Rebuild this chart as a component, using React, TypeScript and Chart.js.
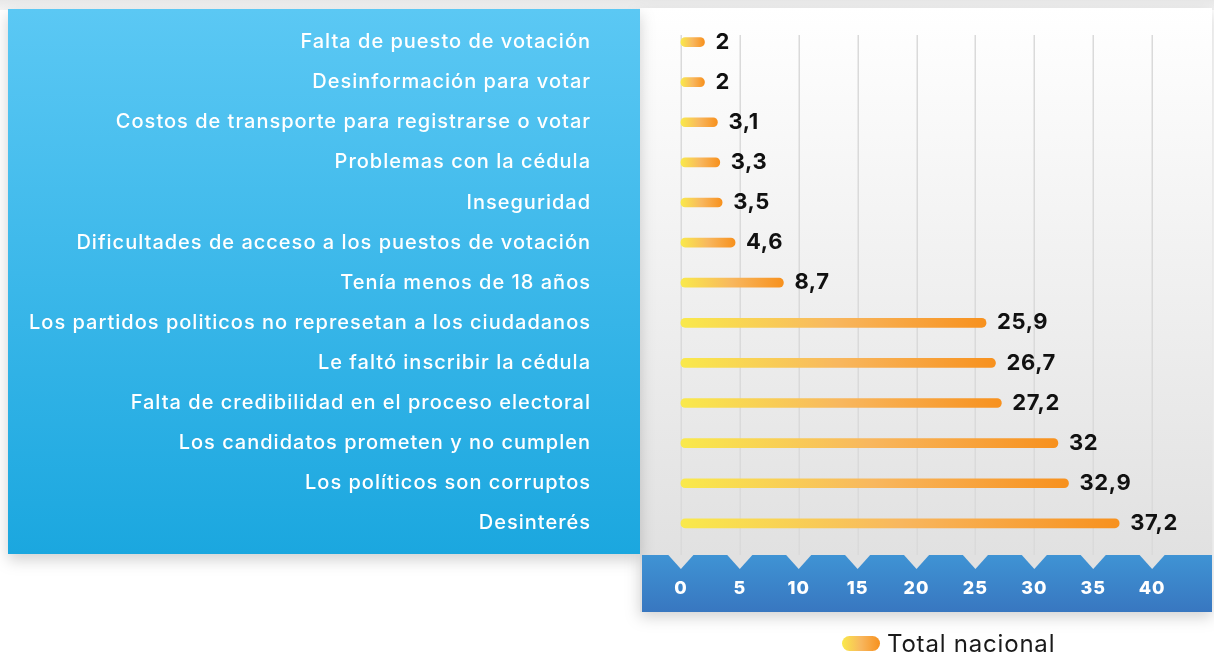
import React, { useEffect, useRef } from 'react';
import { Chart, registerables } from 'chart.js';

Chart.register(...registerables);

const CATEGORIES = [
  'Falta de puesto de votación',
  'Desinformación para votar',
  'Costos de transporte para registrarse o votar',
  'Problemas con la cédula',
  'Inseguridad',
  'Dificultades de acceso a los puestos de votación',
  'Tenía menos de 18 años',
  'Los partidos politicos no represetan a los ciudadanos',
  'Le faltó inscribir la cédula',
  'Falta de credibilidad en el proceso electoral',
  'Los candidatos prometen y no cumplen',
  'Los políticos son corruptos',
  'Desinterés',
];

const VALUES = [2, 2, 3.1, 3.3, 3.5, 4.6, 8.7, 25.9, 26.7, 27.2, 32, 32.9, 37.2];

const X_TICKS = [0, 5, 10, 15, 20, 25, 30, 35, 40];

const LEGEND_LABEL = 'Total nacional';

const FONT = "Inter, 'Open Sans', sans-serif";

const X_MIN = -7.63;
const X_MAX = 45.08;

const fmt = (v: number) => String(v).replace('.', ',');

function warmGradient(c: CanvasRenderingContext2D, x0: number, x1: number) {
  const g = c.createLinearGradient(x0, 0, x1, 0);
  g.addColorStop(0, '#f9e94b');
  g.addColorStop(0.5, '#f8b75e');
  g.addColorStop(1, '#f7911e');
  return g;
}

function roundRect(c: CanvasRenderingContext2D, x: number, y: number, w: number, h: number, r: number) {
  c.beginPath();
  c.moveTo(x + r, y);
  c.lineTo(x + w - r, y);
  c.arcTo(x + w, y, x + w, y + r, r);
  c.lineTo(x + w, y + h - r);
  c.arcTo(x + w, y + h, x + w - r, y + h, r);
  c.lineTo(x + r, y + h);
  c.arcTo(x, y + h, x, y + h - r, r);
  c.lineTo(x, y + r);
  c.arcTo(x, y, x + r, y, r);
  c.closePath();
}

export default function App() {
  const ref = useRef<HTMLCanvasElement>(null);

  useEffect(() => {
    const canvas = ref.current;
    if (!canvas) return;

    const BAND_TOP = 555;
    const BAND_BOTTOM = 612;

    const decor = {
      id: 'decor',
      beforeDraw(chart: any) {
        const c: any = chart.ctx;
        const W = chart.width;
        c.save();
        c.fillStyle = '#ffffff';
        c.fillRect(0, 0, W, chart.height);
        const tg = c.createLinearGradient(0, 0, 0, 10);
        tg.addColorStop(0, '#e8e8e8');
        tg.addColorStop(1, '#f4f4f4');
        c.fillStyle = tg;
        c.fillRect(0, 0, W, 10);

        c.save();
        c.shadowColor = 'rgba(0,0,0,0.18)';
        c.shadowBlur = 14;
        c.shadowOffsetY = 5;
        const rg = c.createLinearGradient(0, 8, 0, BAND_TOP);
        rg.addColorStop(0, '#ffffff');
        rg.addColorStop(1, '#e1e1e1');
        c.fillStyle = rg;
        c.fillRect(640, 8, 1212 - 640, BAND_BOTTOM - 8);
        c.restore();

        c.save();
        c.shadowColor = 'rgba(0,0,0,0.18)';
        c.shadowBlur = 14;
        c.shadowOffsetY = 6;
        const lg = c.createLinearGradient(0, 9, 0, 554);
        lg.addColorStop(0, '#5bc8f4');
        lg.addColorStop(1, '#1ba7df');
        c.fillStyle = lg;
        c.fillRect(8, 9, 640 - 8, 554 - 9);
        c.restore();

        const bg = c.createLinearGradient(0, BAND_TOP, 0, BAND_BOTTOM);
        bg.addColorStop(0, '#3f93d4');
        bg.addColorStop(1, '#3877c0');
        c.fillStyle = bg;
        c.fillRect(642, BAND_TOP, 1212 - 642, BAND_BOTTOM - BAND_TOP);

        const xs = chart.scales.x;
        c.fillStyle = '#e1e1e1';
        X_TICKS.forEach((t) => {
          const px = xs.getPixelForValue(t);
          c.beginPath();
          c.moveTo(px - 13, BAND_TOP - 0.5);
          c.lineTo(px + 13, BAND_TOP - 0.5);
          c.lineTo(px, BAND_TOP + 14);
          c.closePath();
          c.fill();
        });
        c.restore();
        c.letterSpacing = '1px';
      },
      beforeDatasetsDraw(chart: any) {
        const c: any = chart.ctx;
        c.letterSpacing = '0px';
        const xs = chart.scales.x;
        c.save();
        c.strokeStyle = '#dadada';
        c.lineWidth = 1.5;
        X_TICKS.forEach((t) => {
          const px = Math.round(xs.getPixelForValue(t)) + 0.25;
          c.beginPath();
          c.moveTo(px, 35);
          c.lineTo(px, BAND_TOP);
          c.stroke();
        });
        c.restore();
      },
      afterDatasetsDraw(chart: any) {
        const c: any = chart.ctx;
        const meta = chart.getDatasetMeta(0);
        c.save();
        c.letterSpacing = '0.6px';
        c.fillStyle = '#111111';
        c.font = `700 22px ${FONT}`;
        c.textBaseline = 'middle';
        c.textAlign = 'left';
        meta.data.forEach((bar: any, i: number) => {
          c.fillText(fmt(VALUES[i]), bar.x + 11, bar.y);
        });
        c.restore();
      },
      afterDraw(chart: any) {
        const c: any = chart.ctx;
        c.save();
        c.fillStyle = warmGradient(c, 842, 880);
        roundRect(c, 842, 636, 38, 15, 7.5);
        c.fill();
        c.letterSpacing = '0.8px';
        c.fillStyle = '#1a1a1a';
        c.font = `400 24px ${FONT}`;
        c.textBaseline = 'middle';
        c.textAlign = 'left';
        c.fillText(LEGEND_LABEL, 887, 645);
        c.restore();
      },
    };

    const chart = new Chart(canvas, {
      type: 'bar',
      data: {
        labels: CATEGORIES,
        datasets: [
          {
            label: LEGEND_LABEL,
            data: VALUES,
            backgroundColor: (ctx: any) => {
              const ch = ctx.chart;
              const xs = ch.scales?.x;
              if (!xs || !ch.chartArea || ctx.type !== 'data') return '#f7911e';
              const x0 = xs.getPixelForValue(0);
              const x1 = xs.getPixelForValue(ctx.raw);
              return warmGradient(ch.ctx, x0, x1);
            },
            barThickness: 9,
            borderRadius: 5,
            borderSkipped: false,
          },
        ],
      },
      options: {
        indexAxis: 'y',
        responsive: false,
        animation: false,
        layout: { padding: { left: 8, top: 22, right: 2, bottom: 23 } },
        plugins: {
          legend: { display: false },
          tooltip: { enabled: false },
        },
        scales: {
          x: {
            type: 'linear',
            min: X_MIN,
            max: X_MAX,
            afterBuildTicks: (s: any) => {
              s.ticks = X_TICKS.map((v) => ({ value: v }));
            },
            grid: { display: false, drawTicks: false },
            border: { display: false },
            ticks: {
              color: '#ffffff',
              font: { family: FONT, size: 18, weight: '800' },
              padding: 34,
              maxRotation: 0,
              autoSkip: false,
            },
          },
          y: {
            grid: { display: false, drawTicks: false },
            border: { display: false },
            afterFit: (s: any) => {
              s.width = 583;
            },
            ticks: {
              color: '#ffffff',
              font: { family: FONT, size: 20, weight: '500' },
              padding: 0,
              autoSkip: false,
            },
          },
        },
      },
      plugins: [decor],
    } as any);

    return () => chart.destroy();
  }, []);

  return (
    <div style={{ position: 'absolute', left: 0, top: 0, width: 1214, height: 656 }}>
      <canvas ref={ref} width={1214} height={656} style={{ display: 'block' }} />
    </div>
  );
}
